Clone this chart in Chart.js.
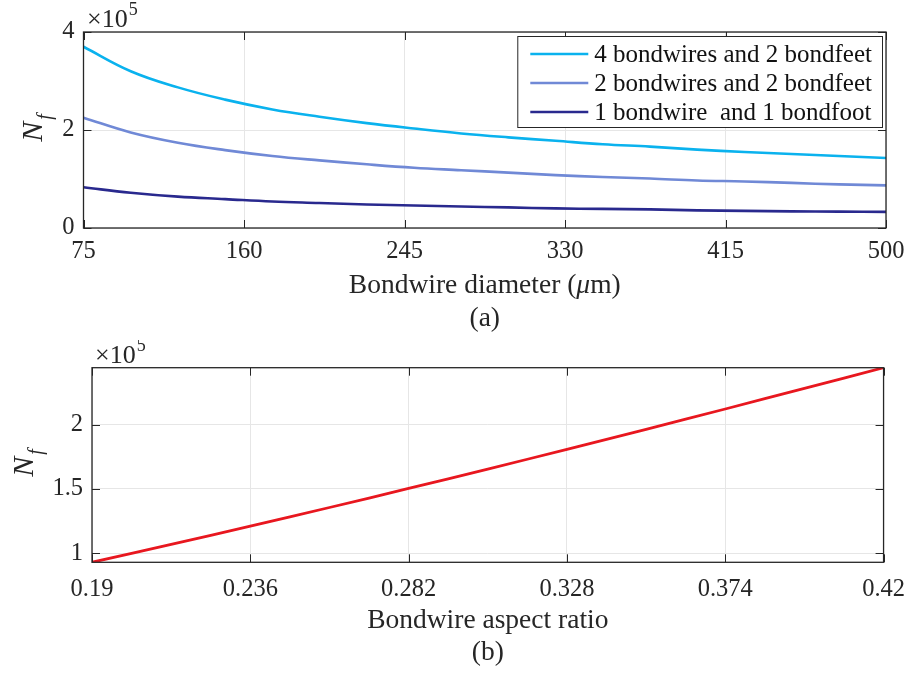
<!DOCTYPE html>
<html>
<head>
<meta charset="utf-8">
<script src="https://cdn.jsdelivr.net/npm/chart.js@4"></script>
<style>
  body { margin: 0; background: #fff; }
  .panel { position: absolute; left: 0; width: 918px; }
  #panelA { top: 0; height: 340px; }
  #panelB { top: 340px; height: 334px; }
</style>
</head>
<body>
<div class="panel" id="panelA"><canvas id="chartA" width="918" height="340"></canvas></div>
<div class="panel" id="panelB"><canvas id="chartB" width="918" height="334"></canvas></div>
<script>
// (a) cycles to failure vs bondwire diameter, values in units of 1e5
const diameters = [75, 100, 125, 150, 175, 200, 225, 250, 275, 300, 325, 350, 375, 400, 425, 450, 475, 500];
const nfFour = [3.70, 3.20, 2.87, 2.62, 2.42, 2.27, 2.14, 2.03, 1.93, 1.85, 1.78, 1.71, 1.66, 1.60, 1.55, 1.51, 1.47, 1.43];
const nfTwo = [2.25, 1.95, 1.74, 1.59, 1.47, 1.38, 1.30, 1.23, 1.18, 1.13, 1.08, 1.04, 1.01, 0.97, 0.95, 0.92, 0.89, 0.87];
const nfOne = [0.83, 0.72, 0.64, 0.59, 0.54, 0.51, 0.48, 0.46, 0.44, 0.42, 0.40, 0.39, 0.38, 0.36, 0.35, 0.34, 0.335, 0.33];
const seriesLabels = ["4 bondwires and 2 bondfeet", "2 bondwires and 2 bondfeet", "1 bondwire  and 1 bondfoot"];
const diameterTicks = [75, 160, 245, 330, 415, 500];
const nfTicksA = [0, 2, 4];

// (b) cycles to failure vs aspect ratio
const aspectRatios = [0.19, 0.213, 0.236, 0.259, 0.282, 0.305, 0.328, 0.351, 0.374, 0.397, 0.42];
const nfAspect = [0.93, 1.069, 1.211, 1.356, 1.504, 1.655, 1.808, 1.964, 2.122, 2.282, 2.443];
const ratioTicks = [0.19, 0.236, 0.282, 0.328, 0.374, 0.42];
const nfTicksB = [1, 1.5, 2];

const SERIF = '"Liberation Serif", "Times New Roman", serif';
const INK = '#262626';

function xy(xs, ys) {
    return xs.map((v, i) => ({ x: v, y: ys[i] }));
}

// MATLAB-like decorations: box, inward ticks, axis titles, exponent, legend
const decor = {
    id: 'decor',
    afterDraw(chart, args, o) {
        const ctx = chart.ctx;
        const a = chart.chartArea;
        const xs = chart.scales.x, ys = chart.scales.y;
        ctx.save();
        ctx.strokeStyle = INK;
        ctx.lineWidth = 1;
        ctx.beginPath();
        xs.ticks.forEach(t => {
            const px = Math.round(xs.getPixelForValue(t.value)) + 0.5;
            ctx.moveTo(px, a.bottom); ctx.lineTo(px, a.bottom - 8);
            ctx.moveTo(px, a.top); ctx.lineTo(px, a.top + 8);
        });
        ys.ticks.forEach(t => {
            const py = Math.round(ys.getPixelForValue(t.value)) + 0.5;
            ctx.moveTo(a.left, py); ctx.lineTo(a.left + 8, py);
            ctx.moveTo(a.right, py); ctx.lineTo(a.right - 8, py);
        });
        ctx.stroke();
        ctx.lineWidth = 1.3;
        ctx.strokeRect(a.left, a.top, a.right - a.left, a.bottom - a.top);

        ctx.fillStyle = INK;
        ctx.textBaseline = 'alphabetic';
        ctx.textAlign = 'left';

        // x title, pieces so that mu can be italic
        const cx = (a.left + a.right) / 2;
        let total = 0;
        o.xTitle.forEach(p => {
            ctx.font = (p.italic ? 'italic ' : '') + '27.5px ' + SERIF;
            p.w = ctx.measureText(p.text).width;
            total += p.w;
        });
        let tx = cx - total / 2;
        o.xTitle.forEach(p => {
            ctx.font = (p.italic ? 'italic ' : '') + '27.5px ' + SERIF;
            ctx.fillText(p.text, tx, o.titleY);
            tx += p.w;
        });
        ctx.font = '27.5px ' + SERIF;
        ctx.textAlign = 'center';
        ctx.fillText(o.caption, cx, o.captionY);

        // exponent label
        ctx.textAlign = 'left';
        ctx.font = '26px ' + SERIF;
        ctx.fillText('\u00d710', o.expX, a.top - 5);
        const ew = ctx.measureText('\u00d710').width;
        ctx.font = '18px ' + SERIF;
        ctx.fillText('5', o.expX + ew + 1, a.top - 17);

        // y label N_f, rotated
        ctx.save();
        const cy = (a.top + a.bottom) / 2 - 2;
        ctx.translate(o.yLabelX, cy);
        ctx.rotate(-Math.PI / 2);
        ctx.font = 'italic 30px ' + SERIF;
        const nw = ctx.measureText('N').width;
        ctx.font = 'italic 20px ' + SERIF;
        const fw = ctx.measureText('f').width;
        const start = -(nw + fw + 2) / 2;
        ctx.font = 'italic 30px ' + SERIF;
        ctx.fillText('N', start, 0);
        ctx.font = 'italic 20px ' + SERIF;
        ctx.fillText('f', start + nw + 2, 9);
        ctx.restore();

        // legend inside the axes
        if (o.legend) {
            const sets = chart.data.datasets;
            ctx.font = '25px ' + SERIF;
            let maxW = 0;
            sets.forEach(d => { maxW = Math.max(maxW, ctx.measureText(d.label).width); });
            const w = 13 + 58 + 6 + maxW + 10;
            const h = 91;
            const right = a.right - 4, top = a.top + 4;
            const left = right - w;
            ctx.fillStyle = '#fff';
            ctx.fillRect(left, top, w, h);
            ctx.strokeStyle = INK;
            ctx.lineWidth = 1;
            ctx.strokeRect(left + 0.5, top + 0.5, w, h);
            sets.forEach((d, i) => {
                const ry = top + 18 + i * 29;
                ctx.strokeStyle = d.borderColor;
                ctx.lineWidth = d.borderWidth;
                ctx.beginPath();
                ctx.moveTo(left + 13, ry);
                ctx.lineTo(left + 71, ry);
                ctx.stroke();
                ctx.fillStyle = '#111';
                ctx.textBaseline = 'middle';
                ctx.fillText(d.label, left + 77, ry + 1);
            });
        }
        ctx.restore();
    }
};

function axisOptions(cfg) {
    return {
        x: {
            type: 'linear',
            min: cfg.xMin, max: cfg.xMax,
            afterBuildTicks: s => { s.ticks = cfg.xTicks.map(v => ({ value: v })); },
            afterFit: s => { s.height = cfg.xHeight; },
            ticks: {
                font: { family: SERIF, size: 24.5 }, color: INK, padding: cfg.xPad,
                maxRotation: 0, autoSkip: false,
                callback: v => String(v)
            },
            grid: { color: '#e6e6e6', drawTicks: false, lineWidth: 1 },
            border: { display: false }
        },
        y: {
            type: 'linear',
            min: cfg.yMin, max: cfg.yMax,
            afterBuildTicks: s => { s.ticks = cfg.yTicks.map(v => ({ value: v })); },
            afterFit: s => { s.width = cfg.yWidth; },
            ticks: {
                font: { family: SERIF, size: 24.5 }, color: INK, padding: 9,
                callback: v => String(v)
            },
            grid: { color: '#e6e6e6', drawTicks: false, lineWidth: 1 },
            border: { display: false }
        }
    };
}

const colorsA = ['#0ab2ee', '#7089d6', '#29298e'];

new Chart(document.getElementById('chartA').getContext('2d'), {
    type: 'line',
    data: {
        datasets: [nfFour, nfTwo, nfOne].map((vals, i) => ({
            label: seriesLabels[i],
            data: xy(diameters, vals),
            borderColor: colorsA[i],
            borderWidth: 2.6,
            pointRadius: 0,
            tension: 0.4,
            fill: false
        }))
    },
    options: {
        responsive: false,
        animation: false,
        layout: { padding: { top: 32, right: 32, left: 0, bottom: 0 } },
        scales: axisOptions({
            xMin: 75, xMax: 500, xTicks: diameterTicks, xHeight: 112, xPad: 9,
            yMin: 0, yMax: 4, yTicks: nfTicksA, yWidth: 83.5
        }),
        plugins: {
            legend: { display: false },
            tooltip: { enabled: false },
            decor: {
                xTitle: [{ text: 'Bondwire diameter (' }, { text: '\u03bc', italic: true }, { text: 'm)' }],
                titleY: 293, caption: '(a)', captionY: 326,
                expX: 87, yLabelX: 42, legend: true
            }
        }
    },
    plugins: [decor]
});

new Chart(document.getElementById('chartB').getContext('2d'), {
    type: 'line',
    data: {
        datasets: [{
            label: 'N_f',
            data: xy(aspectRatios, nfAspect),
            borderColor: '#e8171f',
            borderWidth: 2.8,
            pointRadius: 0,
            tension: 0.4,
            fill: false
        }]
    },
    options: {
        responsive: false,
        animation: false,
        layout: { padding: { top: 27.7, right: 24.7, left: 0, bottom: 0 } },
        scales: axisOptions({
            xMin: 0.19, xMax: 0.42, xTicks: ratioTicks, xHeight: 111.7, xPad: 13,
            yMin: 0.93, yMax: 2.443, yTicks: nfTicksB, yWidth: 92
        }),
        plugins: {
            legend: { display: false },
            tooltip: { enabled: false },
            decor: {
                xTitle: [{ text: 'Bondwire aspect ratio' }],
                titleY: 288, caption: '(b)', captionY: 320,
                expX: 95, yLabelX: 33, legend: false
            }
        }
    },
    plugins: [decor]
});
</script>
</body>
</html>
